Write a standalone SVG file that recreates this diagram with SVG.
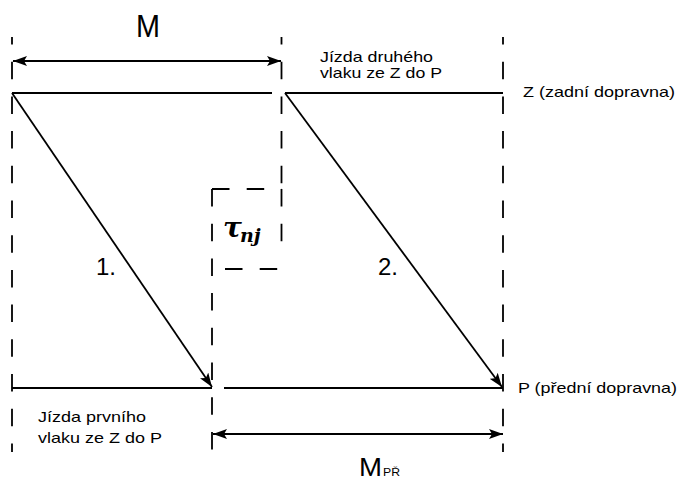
<svg xmlns="http://www.w3.org/2000/svg" width="681" height="482" viewBox="0 0 681 482">
<defs>
<marker id="ah" markerUnits="userSpaceOnUse" markerWidth="15" markerHeight="10" refX="14" refY="5" orient="auto-start-reverse" viewBox="0 0 15 10">
<path d="M0,0 L14,5 L0,10 L3,5 z" fill="#000"/>
</marker>
<style>
.ln{stroke:#000;stroke-width:1.8;fill:none}
.dash{stroke:#000;stroke-width:1.8;fill:none;stroke-dasharray:17.5 17.2}
.t{font-family:"Liberation Sans",Arial,sans-serif;fill:#000}
</style>
</defs>
<g id="guides">
<line class="dash" x1="12" y1="37" x2="12" y2="452" stroke-dashoffset="10"/>
<line class="dash" x1="503" y1="37" x2="503" y2="452" stroke-dashoffset="10"/>
<line class="dash" x1="281.5" y1="37" x2="281.5" y2="189" stroke-dashoffset="10"/>
</g>
<g id="tau-box">
<line class="dash" x1="212" y1="189" x2="281.5" y2="189" stroke-dasharray="6 20 19 17 8"/>
<line class="dash" x1="281.5" y1="189" x2="281.5" y2="256" stroke-dasharray="0 11 17 21 17"/>
<line class="dash" x1="225" y1="269" x2="281" y2="269" stroke-dasharray="18 19 19"/>
<line class="dash" x1="212" y1="189" x2="212" y2="452" stroke-dasharray="9 22 16 19"/>
<text x="223" y="237" font-family="'DejaVu Serif',serif" font-style="italic" font-weight="bold" font-size="28">τ</text>
<text x="240" y="242" font-family="'DejaVu Serif',serif" font-style="italic" font-weight="bold" font-size="19">nj</text>
</g>
<g id="line-Z">
<line class="ln" x1="12" y1="93" x2="272" y2="93"/>
<line class="ln" x1="285" y1="93" x2="503" y2="93"/>
<text class="t" x="523" y="97" font-size="15" textLength="152" lengthAdjust="spacingAndGlyphs">Z (zadní dopravna)</text>
</g>
<g id="line-P">
<line class="ln" x1="12" y1="388" x2="212" y2="388"/>
<line class="ln" x1="224" y1="388" x2="503" y2="388"/>
<text class="t" x="518" y="393" font-size="15" textLength="159" lengthAdjust="spacingAndGlyphs">P (přední dopravna)</text>
</g>
<g id="label-M">
<text class="t" x="136" y="37" font-size="31" textLength="24" lengthAdjust="spacingAndGlyphs">M</text>
</g>
<g id="label-MPR">
<text class="t" x="359" y="476" font-size="26" textLength="23" lengthAdjust="spacingAndGlyphs">M</text>
<text class="t" x="383" y="476" font-size="10.5" textLength="17" lengthAdjust="spacingAndGlyphs">PŘ</text>
</g>
<g id="label-second">
<text class="t" x="320" y="62" font-size="14.5" textLength="113" lengthAdjust="spacingAndGlyphs">Jízda druhého</text>
<text class="t" x="320" y="78" font-size="14.5" textLength="122" lengthAdjust="spacingAndGlyphs">vlaku ze Z do P</text>
</g>
<g id="label-first">
<text class="t" x="38" y="422" font-size="14.5" textLength="108" lengthAdjust="spacingAndGlyphs">Jízda prvního</text>
<text class="t" x="38" y="443" font-size="14.5" textLength="124" lengthAdjust="spacingAndGlyphs">vlaku ze Z do P</text>
</g>
<g id="label-1">
<text class="t" x="96" y="275" font-size="24" textLength="20" lengthAdjust="spacingAndGlyphs">1.</text>
</g>
<g id="label-2">
<text class="t" x="378" y="275" font-size="24" textLength="20" lengthAdjust="spacingAndGlyphs">2.</text>
</g>
<g id="connectors">
<line class="ln" x1="13" y1="61" x2="281" y2="61" marker-start="url(#ah)" marker-end="url(#ah)"/>
<line class="ln" x1="213" y1="434" x2="503" y2="434" marker-start="url(#ah)" marker-end="url(#ah)"/>
<line class="ln" x1="12" y1="93" x2="212" y2="387" marker-end="url(#ah)"/>
<line class="ln" x1="285" y1="93" x2="502" y2="387" marker-end="url(#ah)"/>
</g>
</svg>
